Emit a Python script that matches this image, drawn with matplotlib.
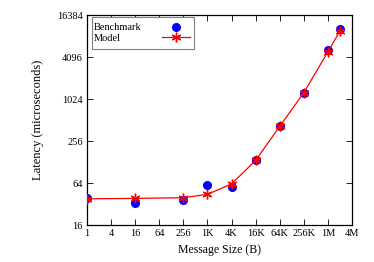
import matplotlib
matplotlib.use("Agg")
import matplotlib.pyplot as plt
from matplotlib.ticker import FixedLocator, NullLocator
from matplotlib.patches import Rectangle

sizes = [1, 16, 256, 1024, 4096, 16384, 65536, 262144, 1048576, 2097152]
benchmark = [38.6, 33, 36.8, 60, 56, 135, 416, 1260, 5150, 10300]
model = [38, 38.5, 39.4, 44, 62, 135, 416, 1260, 4870, 9670]

xticks = [1, 4, 16, 64, 256, 1024, 4096, 16384, 65536, 262144, 1048576, 4194304]
xticklabels = ["1", "4", "16", "64", "256", "1K", "4K", "16K", "64K", "256K", "1M", "4M"]
yticks = [16, 64, 256, 1024, 4096, 16384]
yticklabels = ["16", "64", "256", "1024", "4096", "16384"]

plt.rcParams['font.family'] = ['Liberation Serif', 'DejaVu Serif']
fig = plt.figure(figsize=(3.74, 2.62), dpi=100)
ax = fig.add_axes([0.2326, 0.1412, 0.7086, 0.8015])

ax.plot(sizes, benchmark, linestyle='none', marker='o', color='#0000ff',
        markersize=5.5, label='Benchmark', zorder=3)
ax.plot(sizes, model, color='#ff0000', linewidth=0.9, marker=(6, 2, 0),
        markersize=7, markeredgewidth=1.0, label='Model', zorder=4)

ax.set_xscale('log', base=2)
ax.set_yscale('log', base=2)
ax.set_xlim(1, 4194304)
ax.set_ylim(16, 16384)
ax.xaxis.set_major_locator(FixedLocator(xticks))
ax.xaxis.set_minor_locator(NullLocator())
ax.yaxis.set_major_locator(FixedLocator(yticks))
ax.yaxis.set_minor_locator(NullLocator())
ax.set_xticklabels(xticklabels)
ax.set_yticklabels(yticklabels)
ax.tick_params(direction='in', top=True, right=True, length=4, width=0.6,
               labelsize=7.5, pad=3)
for s in ax.spines.values():
    s.set_linewidth(0.9)

ax.set_xlabel('Message Size (B)', fontsize=8.5, labelpad=4)
ax.set_ylabel('Latency (microseconds)', fontsize=9, labelpad=9)

# legend frame (gnuplot style key box)
ax.add_patch(Rectangle((0.0189, 0.8395), 0.3855, 0.151, transform=ax.transAxes,
                       fill=True, facecolor='white', edgecolor='#808080',
                       linewidth=0.8, zorder=5))
leg = ax.legend(loc='upper left', bbox_to_anchor=(0.0245, 0.962),
                markerfirst=False, fontsize=7.5, frameon=False,
                borderpad=0.0, labelspacing=0.1, handlelength=2.7,
                handletextpad=2.0, borderaxespad=0.0)
leg.set_zorder(6)

# left-align the legend labels (gnuplot key style)
fig.canvas.draw()
renderer = fig.canvas.get_renderer()
from matplotlib.transforms import Bbox
col = leg._legend_handle_box.get_children()[0]
rows = col.get_children()
tas = [r.get_children()[0] for r in rows]
wmax = max(ta.get_bbox(renderer).width for ta in tas)
for ta in tas:
    orig = ta.get_bbox
    def gb(rend, orig=orig):
        b = orig(rend)
        return Bbox.from_bounds(b.x0, b.y0, wmax, b.height)
    ta.get_bbox = gb

fig.savefig('out.png', dpi=100)
